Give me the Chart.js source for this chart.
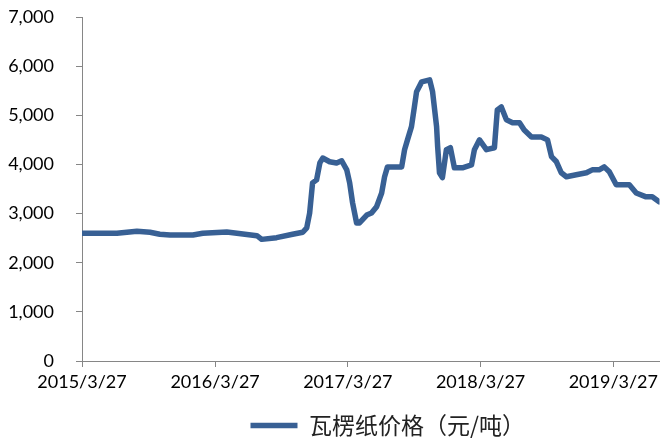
<!DOCTYPE html>
<html>
<head>
<meta charset="utf-8">
<script src="https://cdn.jsdelivr.net/npm/chart.js@4.4.1/dist/chart.umd.min.js"></script>
<style>
    html, body { margin: 0; padding: 0; background: #fff; }
    #wrap { width: 662px; height: 442px; }
</style>
</head>
<body>
<div id="wrap"><canvas id="priceChart" width="662" height="442"></canvas></div>
<script>
// 瓦楞纸价格
const dates = [
    "2015/3/27", "2015/7/1", "2015/8/25", "2015/9/30", "2015/10/27", "2015/11/24",
    "2016/1/26", "2016/2/22", "2016/4/28", "2016/5/26", "2016/7/20", "2016/8/2",
    "2016/9/12", "2016/10/26", "2016/11/23", "2016/12/4", "2016/12/12", "2016/12/20",
    "2016/12/31", "2017/1/9", "2017/1/17", "2017/2/5", "2017/2/24", "2017/3/10",
    "2017/3/24", "2017/4/1", "2017/4/9", "2017/4/20", "2017/4/28", "2017/5/18",
    "2017/5/31", "2017/6/14", "2017/6/28", "2017/7/6", "2017/7/14", "2017/8/22",
    "2017/8/30", "2017/9/7", "2017/9/18", "2017/9/26", "2017/10/2", "2017/10/16",
    "2017/11/7", "2017/11/15", "2017/11/26", "2017/11/29", "2017/12/4", "2017/12/12",
    "2017/12/23", "2018/1/3", "2018/1/14", "2018/2/5", "2018/3/2", "2018/3/10",
    "2018/3/24", "2018/4/12", "2018/5/4", "2018/5/12", "2018/5/23", "2018/6/6",
    "2018/6/23", "2018/7/12", "2018/7/25", "2018/8/14", "2018/9/10", "2018/9/27",
    "2018/10/8", "2018/10/21", "2018/11/4", "2018/11/18", "2018/12/15", "2019/1/12",
    "2019/1/28", "2019/2/16", "2019/3/2", "2019/3/16", "2019/4/4", "2019/5/10",
    "2019/5/29", "2019/6/25", "2019/7/12", "2019/7/31"
];
const prices = [
    2600, 2600, 2640, 2620, 2580, 2565,
    2565, 2600, 2625, 2600, 2550, 2475,
    2510, 2580, 2620, 2710, 3010, 3625,
    3685, 4030, 4130, 4055, 4030, 4075,
    3890, 3625, 3220, 2810, 2810, 2970,
    3010, 3140, 3420, 3750, 3950, 3950,
    4300, 4500, 4770, 5170, 5480, 5680,
    5720, 5480, 4770, 4360, 3830, 3730,
    4300, 4340, 3930, 3930, 3990, 4300,
    4500, 4300, 4340, 5110, 5170, 4910,
    4850, 4850, 4700, 4560, 4560, 4500,
    4160, 4060, 3830, 3750, 3790, 3830,
    3890, 3890, 3950, 3850, 3585, 3585,
    3420, 3340, 3340, 3240
];
const tickLabels = ["2015/3/27", "2016/3/27", "2017/3/27", "2018/3/27", "2019/3/27"];
const seriesName = "瓦楞纸价格（元/吨）";

const lineColor = "#386094";
const axisColor = "#868686";

// days since the first date, so the x axis behaves like a date axis
function dayOf(s) {
    const [y, m, d] = s.split("/").map(Number);
    return (Date.UTC(y, m - 1, d) - Date.UTC(2015, 2, 27)) / 86400000;
}

const points = dates.map((d, i) => ({ x: dayOf(d), y: prices[i] }));
const tickValues = tickLabels.map(dayOf);

// nudge the legend box so it sits where the original one does
const legendNudge = {
    id: "legendNudge",
    afterLayout(chart) {
        const lg = chart.legend;
        lg.left += 17;
        lg.right += 17;
        lg.top += 5;
        lg.bottom += 5;
    },
};

const ctx = document.getElementById("priceChart").getContext("2d");
new Chart(ctx, {
    type: "line",
    data: {
        datasets: [
            {
                label: seriesName,
                data: points,
                borderColor: lineColor,
                backgroundColor: lineColor,
                borderWidth: 5.5,
                borderCapStyle: "round",
                borderJoinStyle: "round",
                pointRadius: 0,
                tension: 0,
            },
        ],
    },
    options: {
        responsive: false,
        animation: false,
        devicePixelRatio: 1,
        layout: {
            padding: { top: 17, right: 0, left: 0, bottom: 0 },
        },
        plugins: {
            tooltip: { enabled: false },
            legend: {
                position: "bottom",
                fullSize: false,
                labels: {
                    usePointStyle: true,
                    pointStyle: "line",
                    pointStyleWidth: 47,
                    color: "#222",
                    padding: 1,
                    font: { family: "'Noto Sans CJK SC'", size: 23 },
                },
            },
        },
        scales: {
            x: {
                type: "linear",
                min: 0,
                max: dayOf("2019/8/1"),
                afterBuildTicks: (scale) => {
                    scale.ticks = tickValues.map((v) => ({ value: v }));
                },
                afterFit: (scale) => {
                    scale.height = 47;
                },
                ticks: {
                    autoSkip: false,
                    maxRotation: 0,
                    padding: 4,
                    color: "#000",
                    font: { family: "Lato", size: 18 },
                    callback: (v) => {
                        const i = tickValues.indexOf(v);
                        return i >= 0 ? tickLabels[i] : "";
                    },
                },
                grid: { drawOnChartArea: false, color: axisColor, tickLength: 6 },
                border: { color: axisColor, width: 1 },
            },
            y: {
                min: 0,
                max: 7000,
                afterFit: (scale) => {
                    scale.width = 82;
                    scale.paddingTop = 0;
                    scale.paddingBottom = 0;
                },
                ticks: {
                    stepSize: 1000,
                    padding: 22,
                    color: "#000",
                    font: { family: "Lato", size: 18 },
                    callback: (v) => v.toLocaleString("en-US"),
                },
                grid: { drawOnChartArea: false, color: axisColor, tickLength: 6 },
                border: { color: axisColor, width: 1 },
            },
        },
    },
    plugins: [legendNudge],
});
</script>
</body>
</html>
